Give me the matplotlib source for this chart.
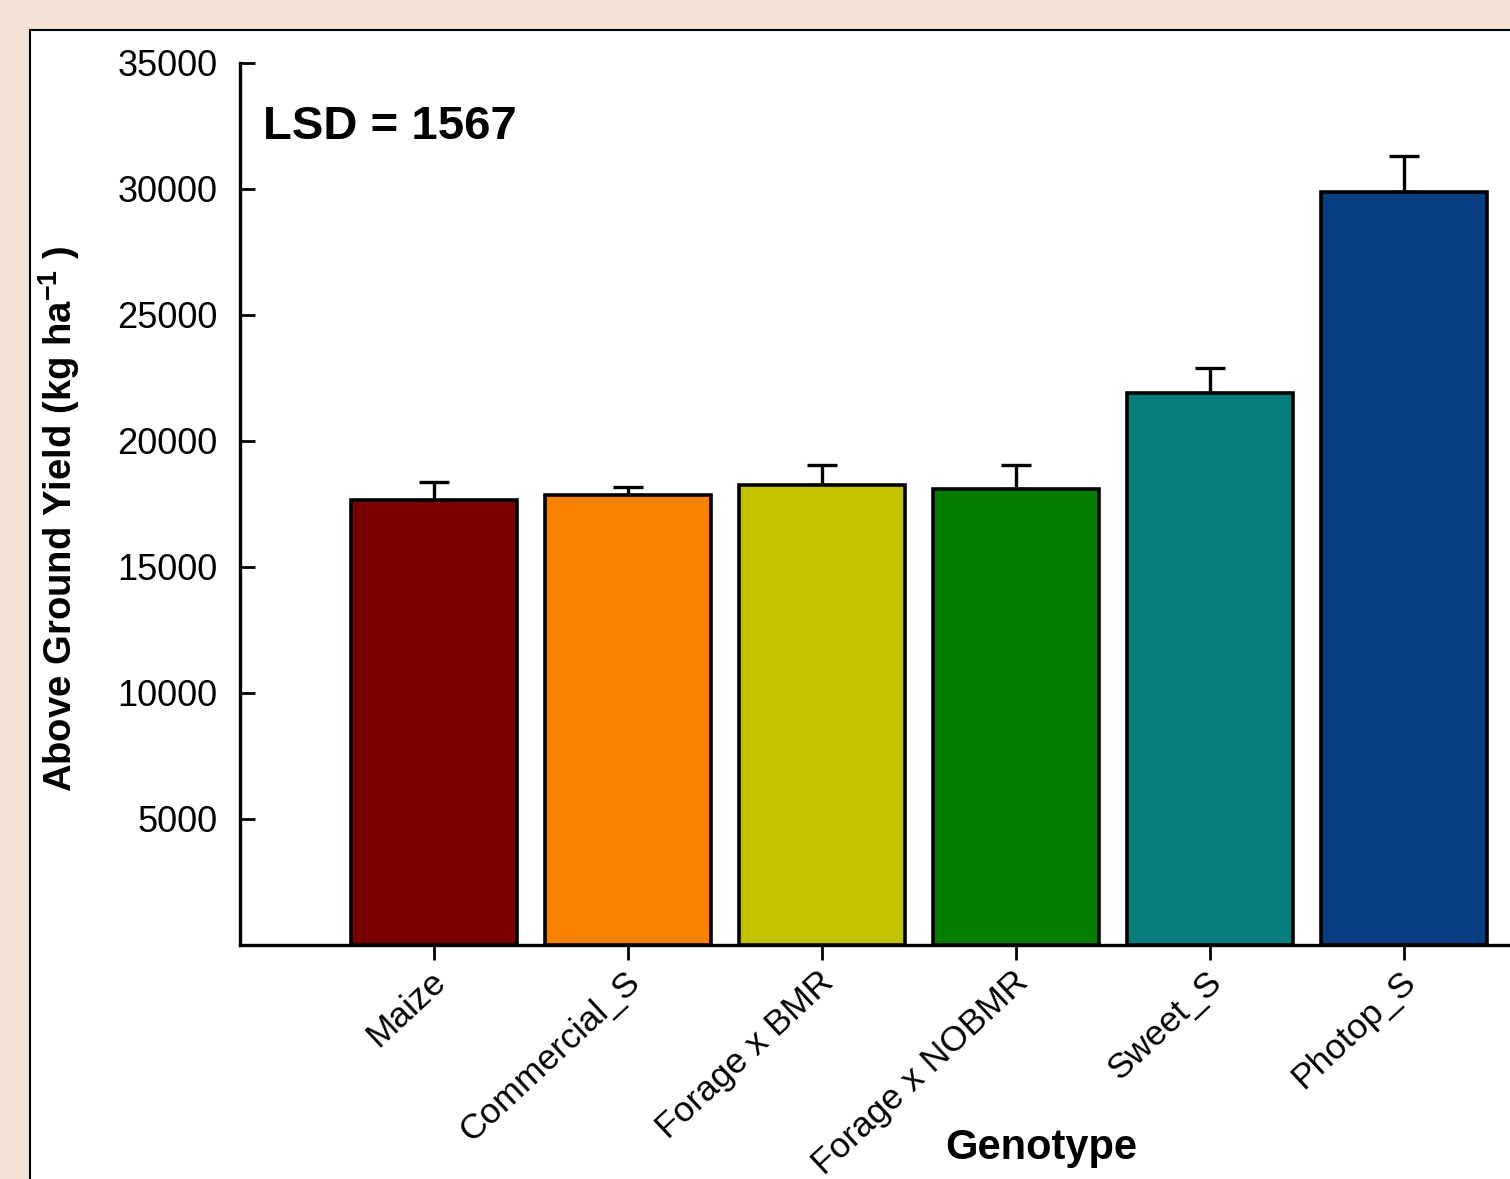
import matplotlib.pyplot as plt
from matplotlib.patches import Rectangle
from matplotlib.transforms import ScaledTranslation

plt.rcParams['font.family'] = ['Liberation Sans', 'DejaVu Sans']
plt.rcParams['mathtext.fontset'] = 'custom'
plt.rcParams['mathtext.rm'] = 'Liberation Sans'
plt.rcParams['mathtext.bf'] = 'Liberation Sans:bold'

genotypes = ['Maize', 'Commercial_S', 'Forage x BMR', 'Forage x NOBMR', 'Sweet_S', 'Photop_S']
yield_kg = [17650, 17850, 18250, 18100, 21900, 29880]
yield_se = [720, 330, 800, 950, 1000, 1430]
bar_colors = ['#7a0000', '#f88200', '#c2c200', '#077d00', '#067c7c', '#063e80']
y_ticks = [5000, 10000, 15000, 20000, 25000, 30000, 35000]
lsd = 1567

W, H = 1510, 1179
fig = plt.figure(figsize=(W / 100, H / 100), dpi=100)
fig.patch.set_facecolor('#f2e3d4')

# white panel with a thin border running off the right and bottom edges
panel = Rectangle((30 / W, -0.2), 1.2, (H - 30) / H + 0.2, transform=fig.transFigure,
                  facecolor='white', edgecolor='black', linewidth=1.5, zorder=-1)
fig.patches.append(panel)

ax = fig.add_axes([240 / W, 234 / H, 1358 / W, 882 / H])
ax.set_facecolor('none')

x = list(range(len(genotypes)))
ax.bar(x, yield_kg, width=0.86, color=bar_colors, edgecolor='black', linewidth=2.6, zorder=3)
ax.errorbar(x, yield_kg, yerr=[[0] * len(x), yield_se], fmt='none', ecolor='black',
            elinewidth=2.4, capsize=10.5, capthick=2.4, zorder=2)

ax.set_xlim(-1, 6)
ax.set_ylim(0, 35000)
ax.set_yticks(y_ticks)
ax.set_yticklabels([str(v) for v in y_ticks], fontsize=26)
ax.set_xticks(x)
ax.set_xticklabels([])

# slanted genotype names, nudged right of the tick marks
name_trans = ax.get_xaxis_transform() + ScaledTranslation(7 / 100, -32 / 100, fig.dpi_scale_trans)
for xi, name in zip(x, genotypes):
    ax.text(xi, 0, name, transform=name_trans, fontsize=25.5, rotation=43,
            ha='right', va='center', rotation_mode='anchor')

for side in ['top', 'right']:
    ax.spines[side].set_visible(False)
for side in ['left', 'bottom']:
    ax.spines[side].set_linewidth(2.4)

ax.tick_params(axis='y', direction='in', length=11, width=2, pad=16)
ax.tick_params(axis='x', direction='out', length=11, width=2)

ax.set_xlabel('Genotype', fontsize=30, fontweight='bold')
ax.xaxis.set_label_coords(0.59, -0.207)
ax.set_ylabel('Above Ground Yield (kg ha$^{\\mathbf{-1}}$ )', fontsize=27.5, fontweight='bold')
ax.yaxis.set_label_coords(-0.116, 0.483)

ax.text(0.017, 0.928, f'LSD = {lsd}', transform=ax.transAxes, fontsize=34,
        fontweight='bold', ha='left', va='center')

fig.savefig('out.png', dpi=100, facecolor=fig.get_facecolor())
